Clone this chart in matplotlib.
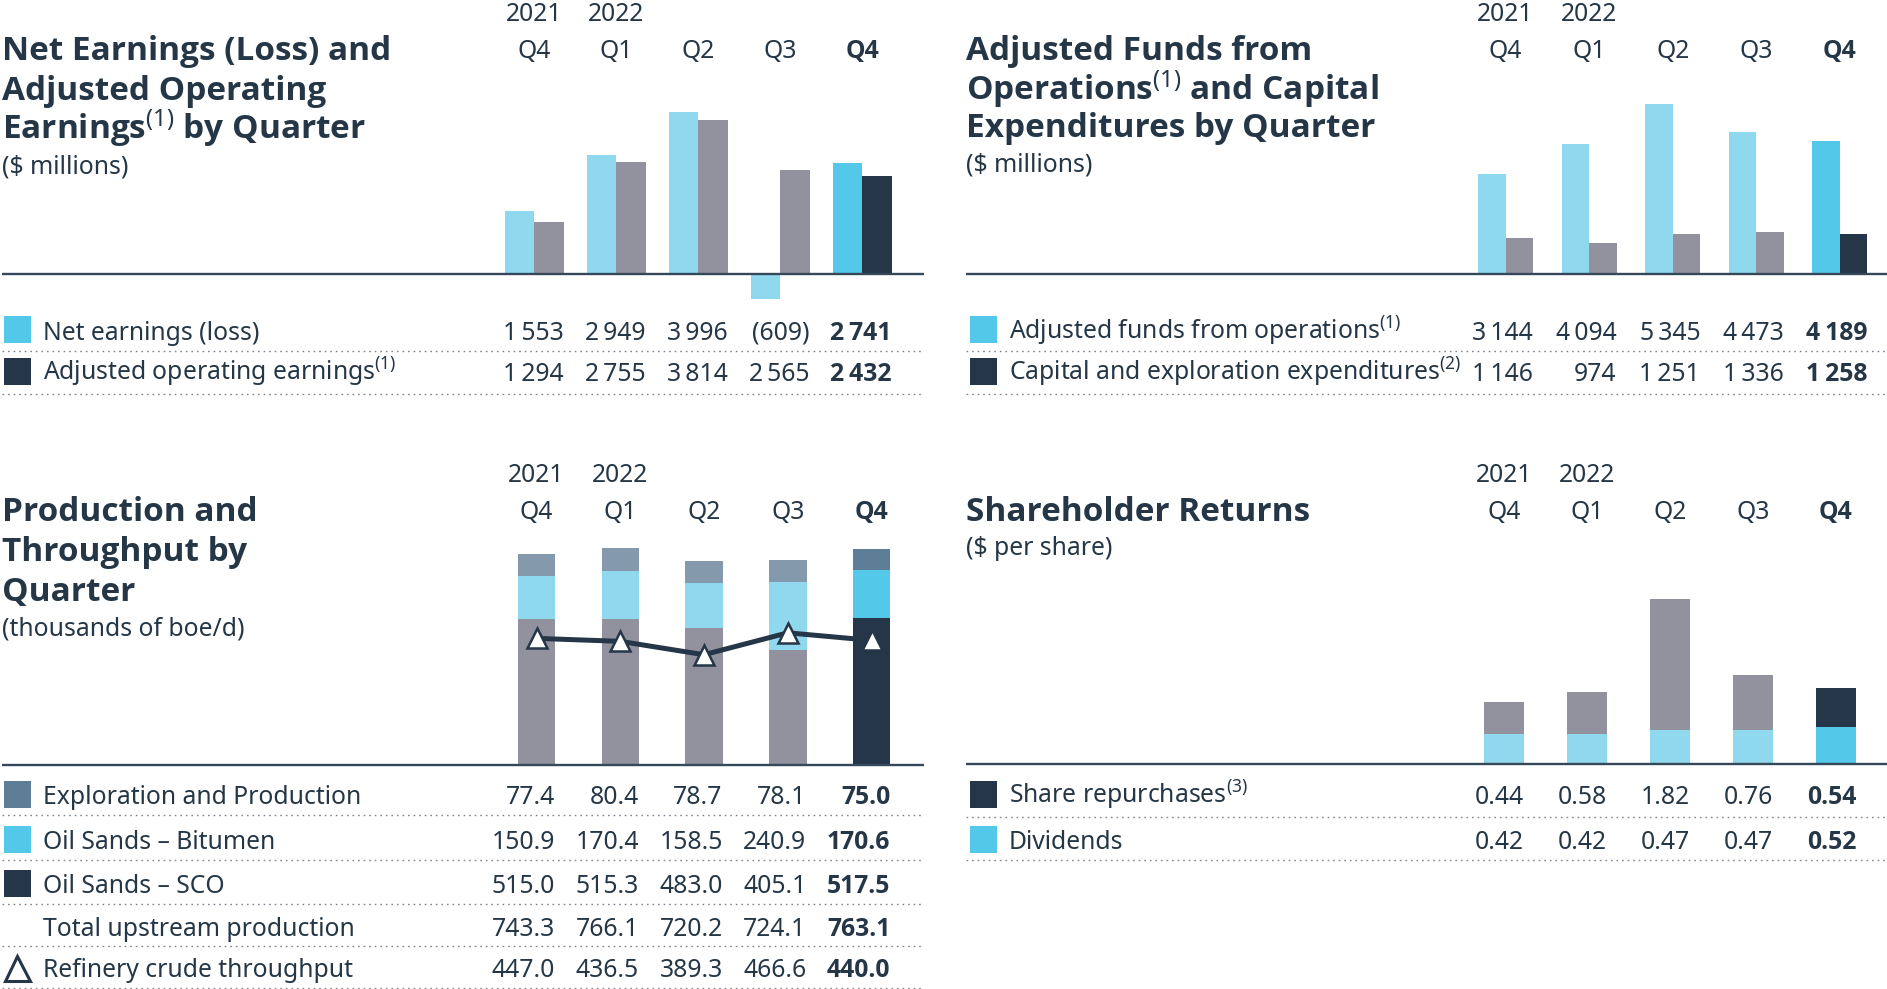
import numpy as np
import matplotlib
matplotlib.use('Agg')
import matplotlib.pyplot as plt
from matplotlib import font_manager as fm
from matplotlib.lines import Line2D
from matplotlib.patches import Rectangle
from matplotlib import transforms

# --- data ---
quarters = ['Q4', 'Q1', 'Q2', 'Q3', 'Q4']
years = ['2021', '2022', '', '', '']

net_earnings = [1553, 2949, 3996, -609, 2741]
adj_operating_earnings = [1294, 2755, 3814, 2565, 2432]

adj_funds_from_ops = [3144, 4094, 5345, 4473, 4189]
capex = [1146, 974, 1251, 1336, 1258]

ep_production = [77.4, 80.4, 78.7, 78.1, 75.0]
bitumen = [150.9, 170.4, 158.5, 240.9, 170.6]
sco = [515.0, 515.3, 483.0, 405.1, 517.5]
total_upstream = [743.3, 766.1, 720.2, 724.1, 763.1]
refinery_throughput = [447.0, 436.5, 389.3, 466.6, 440.0]

share_repurchases = [0.44, 0.58, 1.82, 0.76, 0.54]
dividends = [0.42, 0.42, 0.47, 0.47, 0.52]

# pick a family that really has a bold face installed (variable fonts don't)
bold_names = {f.name for f in fm.fontManager.ttflist
              if isinstance(f.weight, int) and f.weight >= 600}
BOLD_FAMILY = next((n for n in ['Noto Sans', 'Open Sans', 'Lato', 'Roboto', 'Inter',
                                'Liberation Sans', 'DejaVu Sans'] if n in bold_names),
                   'DejaVu Sans')

plt.rcParams['font.family'] = ['Noto Sans', 'DejaVu Sans']
plt.rcParams['mathtext.fontset'] = 'custom'
plt.rcParams['mathtext.rm'] = 'Noto Sans'
plt.rcParams['mathtext.it'] = 'Noto Sans:italic'
plt.rcParams['mathtext.bf'] = BOLD_FAMILY + ':bold'

# colours: earlier quarters muted, latest quarter highlighted
TEXT = '#253746'
NAVY = '#243647'
BLUE = '#54c8e8'
LIGHT = '#8fd8ee'
GRAY = '#91929e'
STEEL = '#5e7d96'
STEEL_LIGHT = '#8499ab'
BASE = '#34485a'
DOTS = '#7d8893'

W, H = 1887, 989
fig = plt.figure(figsize=(W / 100, H / 100), dpi=100)
FS = 17.8
FS_TITLE = 24


def fx(px):
    return px / W


def fy(py):
    return 1 - py / H


def muted(past, current):
    return [past] * 4 + [current]


def bold_kw(is_bold):
    if is_bold:
        return dict(family=[BOLD_FAMILY, 'DejaVu Sans'], fontweight='bold')
    return dict(fontweight='normal')


def panel_axes(left, right, top, bottom, base, scale, c0, step):
    # axes placed in page pixels; data scale chosen to match the page
    ax = fig.add_axes([fx(left), fy(bottom), (right - left) / W, (bottom - top) / H])
    ax.set_xlim((left - c0) / step, (right - c0) / step)
    ax.set_ylim(-(bottom - base) / scale, (base - top) / scale)
    ax.axis('off')
    ax.axhline(0, color=BASE, lw=1.7, zorder=6)
    return ax


def dotted(x0, x1, y):
    fig.add_artist(Line2D([fx(x0), fx(x1)], [fy(y), fy(y)], transform=fig.transFigure,
                          color=DOTS, lw=1.0, linestyle=(0, (1.2, 2.8))))


def swatch(x, y, color):
    fig.add_artist(Rectangle((fx(x), fy(y + 27)), 27 / W, 27 / H, transform=fig.transFigure,
                             facecolor=color, edgecolor='none'))


def headers(ax, year_y, q_y):
    tr = transforms.blended_transform_factory(ax.transData, fig.transFigure)
    for i, (yr, q) in enumerate(zip(years, quarters)):
        if yr:
            fig.text(i, fy(year_y), yr, transform=tr, ha='center', va='baseline',
                     fontsize=FS, color=TEXT)
        fig.text(i, fy(q_y), q, transform=tr, ha='center', va='baseline', fontsize=FS,
                 color=TEXT, **bold_kw(i == 4))


def number_row(ax, values, right_off, y, fmt):
    tr = transforms.blended_transform_factory(ax.transData, fig.transFigure)
    for i, v in enumerate(values):
        fig.text(i + right_off, fy(y), fmt(v), transform=tr, ha='right', va='baseline',
                 fontsize=FS, color=TEXT, **bold_kw(i == 4))


def fmt_millions(v):
    s = f"{abs(v):,}".replace(',', '\u2009')
    return f"({s})" if v < 0 else s


def title(x, lines, sub, baselines, sub_y):
    for line, y in zip(lines, baselines):
        fig.text(fx(x), fy(y), line, fontsize=FS_TITLE, color=TEXT,
                 va='baseline', ha='left', **bold_kw(True))
    fig.text(fx(x), fy(sub_y), sub, fontsize=FS, color=TEXT, va='baseline', ha='left')


def label(x, y, s):
    fig.text(fx(x), fy(y), s, fontsize=FS, color=TEXT, va='baseline', ha='left')


x = np.arange(len(quarters))

# ---------------- Net earnings / adjusted operating earnings ----------------
ax1 = panel_axes(2, 924, 90, 310, base=274, scale=0.0405, c0=534, step=82)
w1 = 29.5 / 82
ax1.bar(x - w1 / 2, net_earnings, w1, color=muted(LIGHT, BLUE))
ax1.bar(x + w1 / 2, adj_operating_earnings, w1, color=muted(GRAY, NAVY))
headers(ax1, 21, 58)
title(2, ['Net Earnings (Loss) and', 'Adjusted Operating',
          r'Earnings$^{\mathrm{(1)}}$ by Quarter'], '($ millions)', [60, 100, 139], 174)
swatch(4, 316, BLUE)
label(43, 340, 'Net earnings (loss)')
swatch(4, 358, NAVY)
label(43, 381, r'Adjusted operating earnings$^{\mathrm{(1)}}$')
number_row(ax1, net_earnings, w1, 340, fmt_millions)
number_row(ax1, adj_operating_earnings, w1, 381, fmt_millions)
dotted(2, 924, 351)
dotted(2, 924, 394)

# ---------------- Adjusted funds from operations / capex ----------------
ax2 = panel_axes(966, 1887, 80, 310, base=274, scale=0.0318, c0=1505.5, step=83.6)
w2 = 27.5 / 83.6
ax2.bar(x - w2 / 2, adj_funds_from_ops, w2, color=muted(LIGHT, BLUE))
ax2.bar(x + w2 / 2, capex, w2, color=muted(GRAY, NAVY))
headers(ax2, 21, 58)
title(966, ['Adjusted Funds from', r'Operations$^{\mathrm{(1)}}$ and Capital',
            'Expenditures by Quarter'], '($ millions)', [60, 100, 137], 171)
swatch(970, 316, BLUE)
label(1009, 340, r'Adjusted funds from operations$^{\mathrm{(1)}}$')
swatch(970, 358, NAVY)
label(1009, 381, r'Capital and exploration expenditures$^{\mathrm{(2)}}$')
number_row(ax2, adj_funds_from_ops, w2, 340, fmt_millions)
number_row(ax2, capex, w2, 381, fmt_millions)
dotted(966, 1887, 351)
dotted(966, 1887, 394)

# ---------------- Production and throughput ----------------
ax3 = panel_axes(2, 924, 530, 775, base=765, scale=0.2833, c0=536.5, step=83.75)
w3 = 37.5 / 83.75
ax3.bar(x, sco, w3, color=muted(GRAY, NAVY))
ax3.bar(x, bitumen, w3, bottom=sco, color=muted(LIGHT, BLUE))
ax3.bar(x, ep_production, w3, bottom=np.add(sco, bitumen), color=muted(STEEL_LIGHT, STEEL))
ax3.plot(x, refinery_throughput, color=NAVY, lw=3.6, marker='^', ms=15, mfc='white',
         mec=NAVY, mew=1.8, zorder=5)
headers(ax3, 482, 519)
title(2, ['Production and', 'Throughput by', 'Quarter'], '(thousands of boe/d)',
      [521, 561, 601], 635)
prod_rows = [('Exploration and Production', ep_production, STEEL),
             ('Oil Sands \u2013 Bitumen', bitumen, BLUE),
             ('Oil Sands \u2013 SCO', sco, NAVY),
             ('Total upstream production', total_upstream, None),
             ('Refinery crude throughput', refinery_throughput, None)]
row_base = [804, 849, 893, 936, 977]
row_dots = [815, 860, 904, 946, 988]
for (name, vals, col), yb, yd in zip(prod_rows, row_base, row_dots):
    if col:
        swatch(4, yb - 23, col)
    label(43, yb, name)
    number_row(ax3, vals, w3 / 2, yb, lambda v: f"{v:.1f}")
    dotted(2, 924, yd)
fig.add_artist(Line2D([fx(17)], [fy(968)], transform=fig.transFigure, marker='^', ms=18,
                      mfc='white', mec=NAVY, mew=2.2, linestyle='none'))

# ---------------- Shareholder returns ----------------
ax4 = panel_axes(966, 1887, 530, 775, base=764, scale=72, c0=1504, step=83)
w4 = 40 / 83
ax4.bar(x, dividends, w4, color=muted(LIGHT, BLUE))
ax4.bar(x, share_repurchases, w4, bottom=dividends, color=muted(GRAY, NAVY))
headers(ax4, 482, 519)
title(966, ['Shareholder Returns'], '($ per share)', [521], 555)
swatch(970, 781, NAVY)
label(1009, 804, r'Share repurchases$^{\mathrm{(3)}}$')
swatch(970, 826, BLUE)
label(1009, 849, 'Dividends')
number_row(ax4, share_repurchases, w4 / 2, 804, lambda v: f"{v:.2f}")
number_row(ax4, dividends, w4 / 2, 849, lambda v: f"{v:.2f}")
dotted(966, 1887, 817)
dotted(966, 1887, 860)

fig.savefig('out.png', dpi=100)
